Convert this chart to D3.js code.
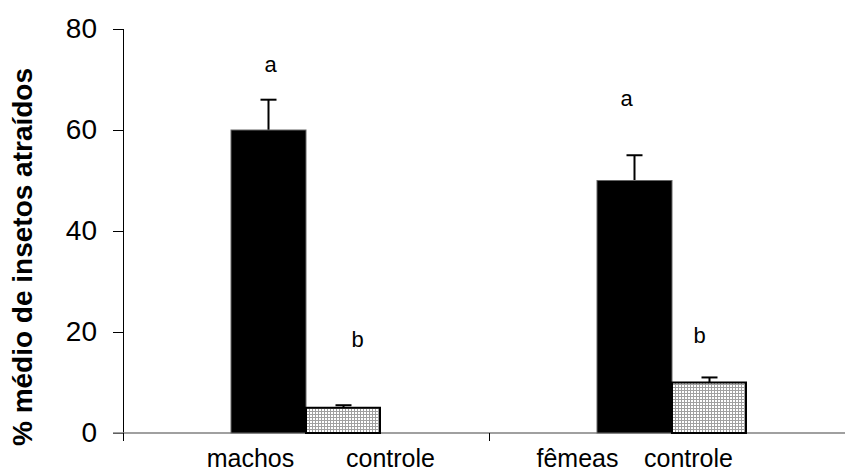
<!DOCTYPE html>
<html><head><meta charset="utf-8">
<script src="https://cdn.jsdelivr.net/npm/d3@7"></script>
<style>body{margin:0;background:#fff}svg{display:block}text{font-family:"Liberation Sans",Arial,sans-serif}</style>
</head><body><svg id="c" width="845" height="473"></svg>
<script>
const groups = ["machos", "fêmeas"];
const series = ["tratamento", "controle"];
const means = [[60, 5], [50, 10]];
const errors = [[6, 0.5], [5, 1]];
const letters = [["a", "b"], ["a", "b"]];
const xLabels = [["machos", "controle"], ["fêmeas", "controle"]];
const yTicks = [0, 20, 40, 60, 80];

// layout (not data)
const letterPos = [[[2, 71.5], [14, 17]], [[-8, 64.8], [-10, 17.8]]]; // [dx from bar centre, y in data units]
const labelDx = [[-18, 47], [-57, -21]];

const svg = d3.select("#c");
const y = d3.scaleLinear().domain([0, 80]).range([433, 29]);
const x0 = d3.scaleBand().domain(groups).range([123, 855]).paddingInner(0).paddingOuter(0);
const x1 = d3.scaleBand().domain(series).range([0, x0.bandwidth()]).paddingInner(0).paddingOuter(1.44);

const defs = svg.append("defs");
const pat = defs.append("pattern").attr("id", "grid").attr("patternUnits", "userSpaceOnUse")
  .attr("width", 3).attr("height", 3);
pat.append("rect").attr("width", 3).attr("height", 3).attr("fill", "#ffffff");
pat.append("path").attr("d", "M0,0.5H3M0.5,0V3").attr("stroke", "#a0a0a0").attr("stroke-width", 1);

// y axis
const ya = svg.append("g").attr("transform", "translate(123,0)")
  .call(d3.axisLeft(y).tickValues(yTicks).tickSize(10).tickPadding(16));
ya.select(".domain").attr("stroke", "#000").attr("d", "M0.5,29V440");
ya.selectAll(".tick line").attr("stroke", "#000");
ya.selectAll(".tick text").attr("font-size", 28).attr("fill", "#000")
  .style("font-family", "'Liberation Sans',Arial,sans-serif");

// x axis line and ticks
svg.append("line").attr("x1", 113).attr("x2", 845).attr("y1", y(0)).attr("y2", y(0))
  .attr("stroke", "#808080").attr("stroke-width", 1.5);
const edges = groups.map(g => x0(g)).concat([x0(groups[1]) + x0.bandwidth()]);
svg.selectAll(".xt").data(edges).enter().append("line")
  .attr("x1", d => d + 0.5).attr("x2", d => d + 0.5).attr("y1", y(0)).attr("y2", y(0) + 8)
  .attr("stroke", "#000").attr("stroke-width", 1);

// bars
groups.forEach((g, gi) => {
  series.forEach((s, si) => {
    const v = means[gi][si], e = errors[gi][si];
    const bx = x0(g) + x1(s), bw = x1.bandwidth(), cx = bx + bw / 2;
    // error bar (upper only)
    svg.append("line").attr("x1", cx).attr("x2", cx).attr("y1", y(v)).attr("y2", y(v + e))
      .attr("stroke", "#000").attr("stroke-width", 2);
    svg.append("line").attr("x1", cx - 8).attr("x2", cx + 8).attr("y1", y(v + e)).attr("y2", y(v + e))
      .attr("stroke", "#000").attr("stroke-width", 2);
    if (si === 0) {
      svg.append("rect").attr("x", bx).attr("y", y(v)).attr("width", bw).attr("height", y(0) - y(v))
        .attr("fill", "#000").attr("stroke", "#666").attr("stroke-width", 1);
    } else {
      svg.append("rect").attr("x", bx).attr("y", y(v)).attr("width", bw - 1).attr("height", y(0) - y(v))
        .attr("fill", "url(#grid)").attr("stroke", "#000").attr("stroke-width", 2);
    }
    const lp = letterPos[gi][si];
    svg.append("text").attr("x", cx + lp[0]).attr("y", y(lp[1])).attr("text-anchor", "middle")
      .attr("font-size", 22).attr("fill", "#000").text(letters[gi][si]);
    svg.append("text").attr("x", cx + labelDx[gi][si]).attr("y", 467).attr("text-anchor", "middle")
      .attr("font-size", 25).attr("fill", "#000").text(xLabels[gi][si]);
  });
});

// y title
svg.append("text").attr("transform", "translate(32,257) rotate(-90)").attr("text-anchor", "middle")
  .attr("font-size", 28).attr("font-weight", "bold").attr("fill", "#000").text("% médio de insetos atraídos");
</script></body></html>
